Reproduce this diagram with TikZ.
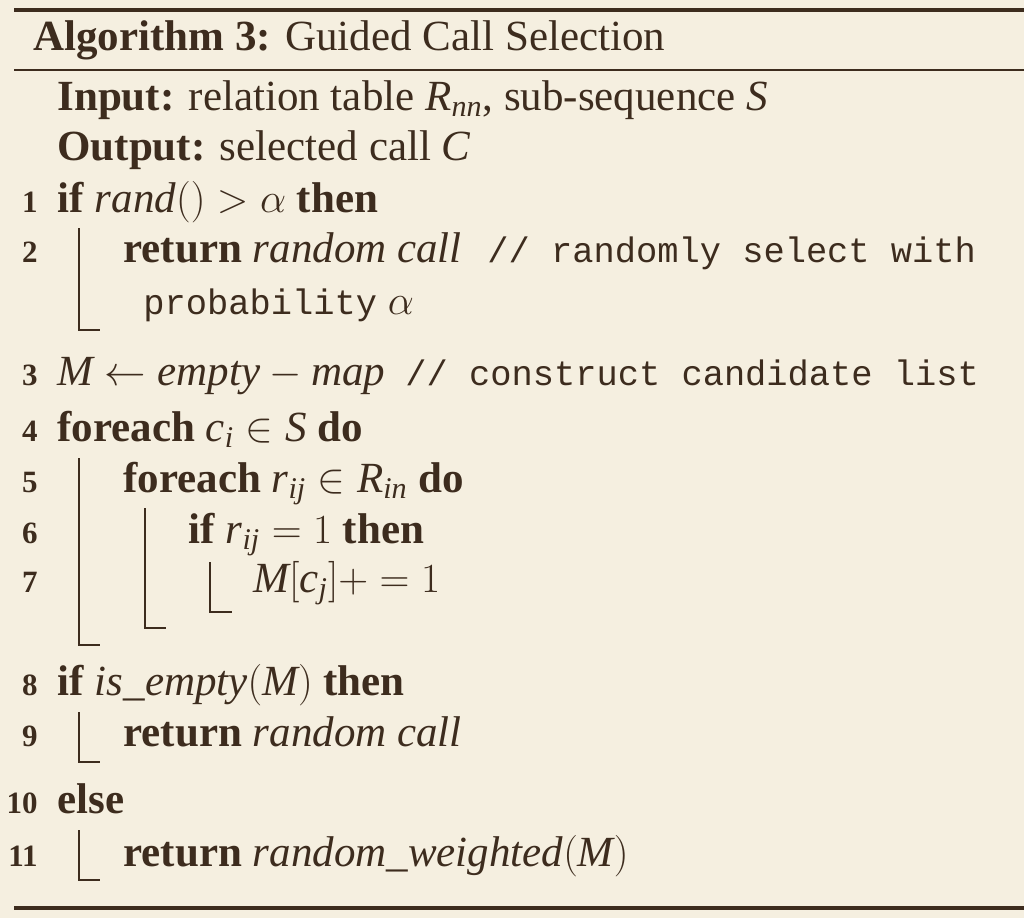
\documentclass[tikz,border=0pt]{standalone}
\usepackage{amsmath}
\usepackage{fontspec}
\setmainfont{Liberation Serif}
\setmonofont{Liberation Mono}
\usepackage{tikz}
\usetikzlibrary{positioning}
\definecolor{paper}{RGB}{245,239,224}
\definecolor{ink}{RGB}{61,44,30}
\tikzstyle{code}=[anchor=base west, inner sep=0pt, text=ink]
\tikzstyle{lnum}=[anchor=base east, inner sep=0pt, text=ink, font=\fontsize{15.5}{18}\selectfont\bfseries]
\tikzstyle{rule}=[draw=ink, line width=1.6pt]
\tikzstyle{blockbar}=[draw=ink, line width=0.8pt]
\newcommand{\kw}[1]{\textbf{#1}}
\newcommand{\vi}[1]{\mathit{#1}}
\newcommand{\cmt}[1]{{\fontsize{17.7}{20}\selectfont\ttfamily #1}}

\begin{document}
\begin{tikzpicture}[x=0.5pt,y=-0.5pt,font=\fontsize{21.5}{25}\selectfont]
	\fill[paper] (0,0) rectangle (1024,918);
	\useasboundingbox (0,0) rectangle (1024,918);

	%%% caption between the rules
	\draw[rule] (14,10) -- (1024,10);
	\node[code] (algTitle) at (33,50) {\kw{Algorithm 3:} Guided Call Selection};
	\draw[rule,line width=1.1pt] (14,70) -- (1024,70);

	%%% input / output
	\node[code] (inputLine) at (57,110) {\kw{Input:} relation table $\vi{R}_{\vi{nn}}$, sub-sequence $\vi{S}$};
	\node[code] (outputLine) at (57,160) {\kw{Output:} selected call $\vi{C}$};

	%%% numbered lines
	\node[code] (lineOne) at (57,212) {\kw{if} $\vi{rand}() > \alpha$ \kw{then}};
	\node[code] (lineTwo) at (123,262) {\kw{return} \textit{random call}};
	\node[code] (cmtTwo) at (487,262) {\cmt{// randomly select with}};
	\node[code] (probLine) at (143,314) {\cmt{probability} $\alpha$};
	\node[code] (lineThree) at (57,385) {$\vi{M} \leftarrow \vi{empty} - \vi{map}$};
	\node[code] (cmtThree) at (405,385) {\cmt{// construct candidate list}};
	\node[code] (lineFour) at (57,441) {\kw{foreach} $\vi{c}_{\vi{i}} \in \vi{S}$ \kw{do}};
	\node[code] (lineFive) at (123,492) {\kw{foreach} $\vi{r}_{\vi{ij}} \in \vi{R}_{\vi{in}}$ \kw{do}};
	\node[code] (lineSix) at (188,543) {\kw{if} $\vi{r}_{\vi{ij}} = 1$ \kw{then}};
	\node[code] (lineSeven) at (253,592) {$\vi{M}[\vi{c}_{\vi{j}}]+=1$};
	\node[code] (lineEight) at (57,695) {\kw{if} $\vi{is\_empty}(\vi{M})$ \kw{then}};
	\node[code] (lineNine) at (123,746) {\kw{return} \textit{random call}};
	\node[code] (lineTen) at (57,813) {\kw{else}};
	\node[code] (lineEleven) at (123,866) {\kw{return} $\vi{random\_weighted}(\vi{M})$};

	% line numbers
	\foreach \n/\y in {1/212,2/262,3/385,4/441,5/492,6/543,7/592,8/695,9/746,10/813,11/866}
		\node[lnum] (num\n) at (38,\y) {\n};

	% block bars
	\draw[blockbar] (79,228) |- (100,330);
	\draw[blockbar] (79,458) |- (100,645);
	\draw[blockbar] (145,508) |- (166,628);
	\draw[blockbar] (210,562) |- (232,612);
	\draw[blockbar] (79,712) |- (100,762);
	\draw[blockbar] (79,830) |- (100,880);

	\draw[rule] (14,908) -- (1024,908);
\end{tikzpicture}
\end{document}
